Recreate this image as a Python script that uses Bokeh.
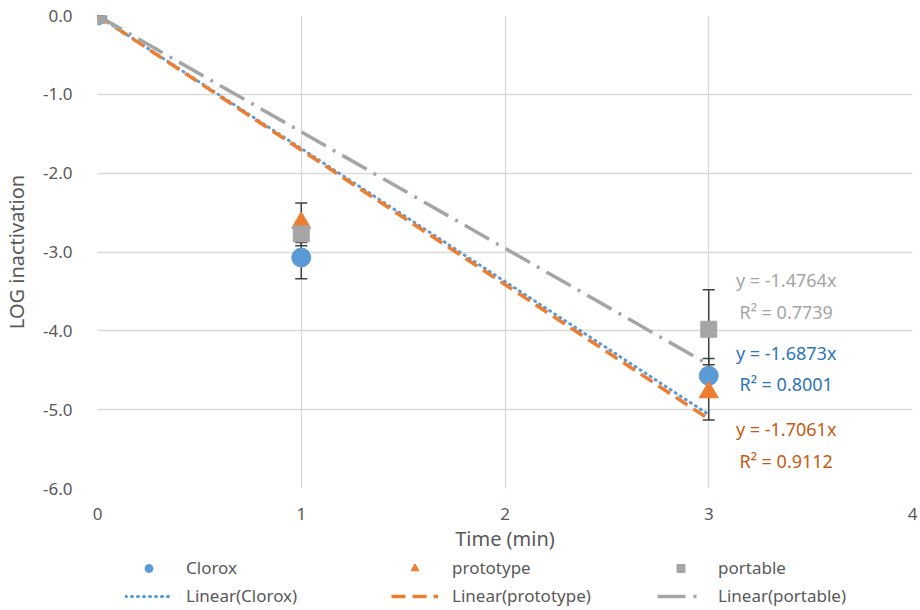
from bokeh.plotting import figure
from bokeh.layouts import column
from bokeh.models import (Range1d, Legend, LegendItem, Whisker, ColumnDataSource,
                          NumeralTickFormatter, FixedTicker, Label, TeeHead)
from bokeh.embed import file_html
from bokeh.resources import INLINE

# ---- data ----
time = [0, 1, 3]
clorox = [0.0, -3.07, -4.57]
clorox_err = [0.0, 0.27, 0.22]
prototype = [0.0, -2.63, -4.78]
prototype_err = [0.0, 0.25, 0.35]
portable = [0.0, -2.77, -3.98]
portable_err = [0.0, 0.15, 0.50]

slope_clorox = -1.6873
slope_prototype = -1.7061
slope_portable = -1.4764
r2_clorox = 0.8001
r2_prototype = 0.9112
r2_portable = 0.7739
trend_x = [0, 3]

x_ticks = [0, 1, 2, 3, 4]
y_ticks = [0, -1, -2, -3, -4, -5, -6]

C_BLUE = "#5B9BD5"
C_ORANGE = "#ED7D31"
C_GRAY = "#A5A5A5"
FONT = "Noto Sans"

STYLE_C = dict(marker="circle", size=19, fill_color=C_BLUE, line_color=C_BLUE)
STYLE_P = dict(marker="triangle", size=19, fill_color=C_ORANGE, line_color=C_ORANGE)
STYLE_G = dict(marker="square", size=16, fill_color=C_GRAY, line_color=C_GRAY)
LSTYLE_C = dict(line_color=C_BLUE, line_width=3, line_dash="1 5", line_cap="round")
LSTYLE_P = dict(line_color=C_ORANGE, line_width=3.5, line_dash="14 7")
LSTYLE_G = dict(line_color=C_GRAY, line_width=3.5, line_dash="28 8 3 8")


def tl(s):
    return [s * x for x in trend_x]


p = figure(width=920, height=555, output_backend="svg", toolbar_location=None,
           x_range=Range1d(0, 4), y_range=Range1d(-6, 0),
           min_border_left=95, min_border_right=8, min_border_top=15,
           min_border_bottom=67)
p.outline_line_color = None
p.background_fill_color = "white"
p.border_fill_color = "white"

for ax in (p.xaxis, p.yaxis):
    ax.axis_line_color = None
    ax.major_tick_line_color = None
    ax.minor_tick_line_color = None
    ax.major_label_text_font = FONT
    ax.major_label_text_font_size = "17px"
    ax.major_label_text_color = "#595959"
    ax.axis_label_text_font = FONT
    ax.axis_label_text_font_size = "20px"
    ax.axis_label_text_font_style = "normal"
    ax.axis_label_text_color = "#595959"

p.xaxis.ticker = FixedTicker(ticks=x_ticks)
p.yaxis.ticker = FixedTicker(ticks=y_ticks)
p.yaxis.formatter = NumeralTickFormatter(format="0.0")
p.xaxis.axis_label = "Time (min)"
p.yaxis.axis_label = "LOG inactivation"
p.xaxis.major_label_standoff = 13
p.xaxis.axis_label_standoff = 2
p.yaxis.major_label_standoff = 19
p.yaxis.axis_label_standoff = 10

p.xgrid.grid_line_color = "#d9d9d9"
p.ygrid.grid_line_color = "#d9d9d9"
p.xgrid.grid_line_width = 1.3
p.ygrid.grid_line_width = 1.3

# trendlines
p.line(trend_x, tl(slope_clorox), **LSTYLE_C)
p.line(trend_x, tl(slope_prototype), **LSTYLE_P)
p.line(trend_x, tl(slope_portable), **LSTYLE_G)

# error bars
for vals, errs in ((clorox, clorox_err), (prototype, prototype_err), (portable, portable_err)):
    src = ColumnDataSource(dict(x=time, up=[v + e for v, e in zip(vals, errs)],
                                lo=[v - e for v, e in zip(vals, errs)]))
    w = Whisker(base="x", upper="up", lower="lo", source=src, line_color="#404040",
                line_width=1.5,
                upper_head=TeeHead(size=12, line_color="#404040", line_width=1.5),
                lower_head=TeeHead(size=12, line_color="#404040", line_width=1.5))
    p.add_layout(w)

# markers
p.scatter(time, clorox, **STYLE_C)
p.scatter(time, prototype, **STYLE_P)
p.scatter(time, portable, **STYLE_G)

# trend labels
def add_lbl(y, text, color):
    p.add_layout(Label(x=3.38, y=y, text=text, text_align="center", text_baseline="middle",
                       text_font=FONT, text_font_size="18px", text_color=color))

add_lbl(-3.36, f"y = {slope_portable}x", "#A5A5A5")
add_lbl(-3.76, f"R² = {r2_portable}", "#A5A5A5")
add_lbl(-4.28, f"y = {slope_clorox}x", "#2E75B6")
add_lbl(-4.67, f"R² = {r2_clorox}", "#2E75B6")
add_lbl(-5.24, f"y = {slope_prototype}x", "#C55A11")
add_lbl(-5.65, f"R² = {r2_prototype}", "#C55A11")

# ---- legend strip: same series re-drawn out of view, used only for legend glyphs ----
lg = figure(width=920, height=55, output_backend="svg", toolbar_location=None,
            x_range=Range1d(0, 4), y_range=Range1d(10, 11),
            min_border=0, x_axis_type=None, y_axis_type=None)
lg.outline_line_color = None
lg.xgrid.visible = False
lg.ygrid.visible = False
q_c = lg.scatter(time, clorox, **STYLE_C)
q_p = lg.scatter(time, prototype, **STYLE_P)
q_g = lg.scatter(time, portable, **STYLE_G)
q_lc = lg.line(trend_x, tl(slope_clorox), **LSTYLE_C)
q_lp = lg.line(trend_x, tl(slope_prototype), **LSTYLE_P)
q_lg = lg.line(trend_x, tl(slope_portable), **LSTYLE_G)

legend = Legend(items=[
    LegendItem(label="Clorox", renderers=[q_c], index=0),
    LegendItem(label="prototype", renderers=[q_p], index=0),
    LegendItem(label="portable", renderers=[q_g], index=0),
    LegendItem(label="Linear(Clorox)", renderers=[q_lc]),
    LegendItem(label="Linear(prototype)", renderers=[q_lp]),
    LegendItem(label="Linear(portable)", renderers=[q_lg]),
], ncols=3, location=(28, 3), orientation="horizontal")
legend.label_text_font = FONT
legend.label_text_font_size = "17px"
legend.label_text_color = "#595959"
legend.glyph_width = 47
legend.glyph_height = 20
legend.label_standoff = 14
legend.label_width = 200
legend.label_height = 20
legend.spacing = 5
legend.padding = 0
legend.margin = 0
legend.border_line_color = None
legend.background_fill_alpha = 0
lg.add_layout(legend, "center")

layout = column(p, lg, spacing=0)
open("out.html", "w").write(file_html(layout, INLINE))
